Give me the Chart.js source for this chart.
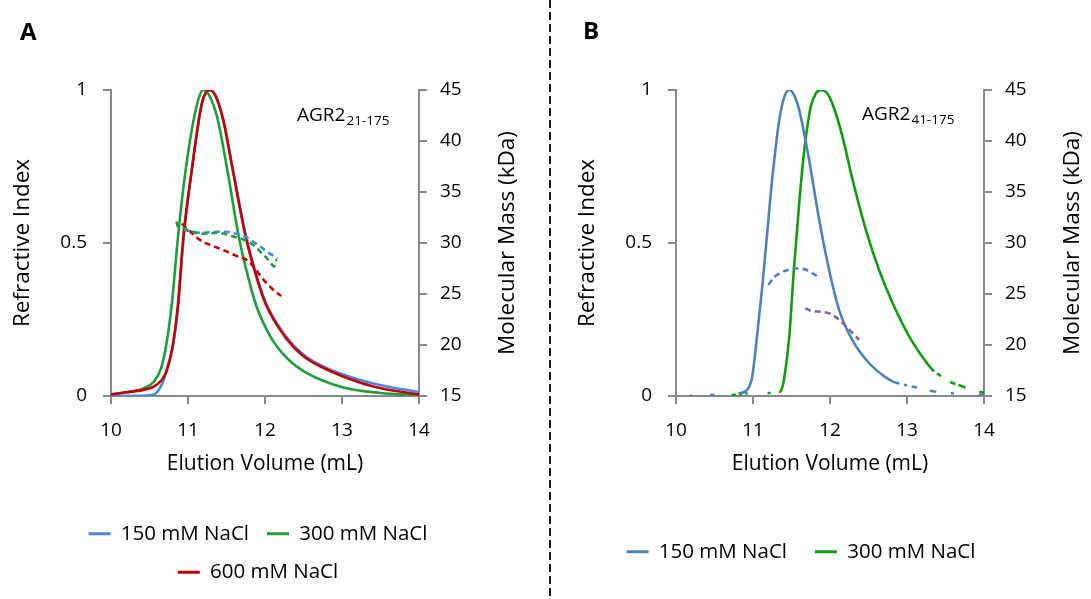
<!DOCTYPE html>
<html>
<head>
<meta charset="utf-8">
<script src="https://cdn.jsdelivr.net/npm/chart.js@4.4.1/dist/chart.umd.min.js"></script>
<style>
html,body{margin:0;padding:0;background:#fff;}
#wrap{position:relative;width:1091px;height:599px;overflow:hidden;background:#fff;font-family:'Open Sans',sans-serif;color:#000;}
canvas{position:absolute;top:0;}
#divider{position:absolute;left:549px;top:0;width:2px;height:599px;background:repeating-linear-gradient(to bottom,#1a1a1a 0px,#1a1a1a 8px,transparent 8px,transparent 12px);}
.panel{position:absolute;font-weight:bold;font-size:24px;line-height:24px;}
.ann{position:absolute;font-size:19px;line-height:19px;white-space:nowrap;}
.ann .sb{font-size:13.5px;position:relative;top:4px;margin-left:1px;}
</style>
</head>
<body>
<div id="wrap">
  <canvas id="cA" width="526" height="599" style="left:0px"></canvas>
  <canvas id="cB" width="526" height="599" style="left:565px"></canvas>
  <div id="divider"></div>
  <div class="panel" style="left:20px;top:18.5px">A</div>
  <div class="panel" style="left:583px;top:18px">B</div>
  <div class="ann" style="left:297px;top:104.5px">AGR2<span class="sb">21-175</span></div>
  <div class="ann" style="left:862px;top:103.5px">AGR2<span class="sb">41-175</span></div>
</div>
<script>
// ---------- axis ticks / labels ----------
const xTicks = [10, 11, 12, 13, 14];
const riTicks = [0, 0.5, 1];
const mmTicks = [15, 20, 25, 30, 35, 40, 45];
const xTitle = 'Elution Volume (mL)';
const riTitle = 'Refractive Index';
const mmTitle = 'Molecular Mass (kDa)';
const seriesNames = ['150 mM NaCl', '300 mM NaCl', '600 mM NaCl'];

// ---------- Panel A (AGR2 21-175) : refractive index ----------
const a150_v  = [10.0, 10.4, 10.55, 10.62, 10.68, 10.73, 10.8, 10.87, 10.94, 11.05, 11.18, 11.28, 11.36, 11.46, 11.58, 11.75, 11.9, 12.01, 12.27, 12.5, 12.86, 13.42, 14.0];
const a150_ri = [0.0, 0.001, 0.004, 0.02, 0.05, 0.09, 0.16, 0.29, 0.51, 0.74, 0.955, 1.0, 0.98, 0.9, 0.745, 0.525, 0.385, 0.305, 0.195, 0.135, 0.085, 0.04, 0.013];
const a300_v  = [10.0, 10.2, 10.42, 10.55, 10.65, 10.72, 10.79, 10.87, 10.97, 11.12, 11.2, 11.28, 11.38, 11.51, 11.66, 11.78, 11.88, 12.08, 12.3, 12.51, 13.03, 13.5, 14.0];
const a300_ri = [0.005, 0.012, 0.025, 0.045, 0.09, 0.17, 0.30, 0.52, 0.74, 0.956, 1.0, 0.98, 0.91, 0.74, 0.52, 0.39, 0.30, 0.19, 0.12, 0.08, 0.027, 0.01, 0.003];
const a600_v  = [10.0, 10.2, 10.42, 10.55, 10.65, 10.72, 10.8, 10.87, 10.94, 11.05, 11.18, 11.28, 11.36, 11.46, 11.58, 11.75, 11.9, 12.01, 12.27, 12.5, 12.86, 13.42, 14.0];
const a600_ri = [0.005, 0.012, 0.02, 0.03, 0.05, 0.08, 0.16, 0.30, 0.52, 0.74, 0.956, 1.0, 0.98, 0.9, 0.74, 0.52, 0.38, 0.30, 0.19, 0.13, 0.08, 0.03, 0.005];
// Panel A : molecular mass (kDa)
const a150m_v  = [10.95, 11.05, 11.16, 11.28, 11.38, 11.5, 11.6, 11.68, 11.75, 11.85, 11.95, 12.03, 12.1, 12.16];
const a150m_mm = [31.3, 31.1, 31.0, 31.05, 31.1, 31.1, 30.95, 30.8, 30.6, 30.1, 29.6, 29.1, 28.8, 28.5];
const a300m_v  = [10.85, 10.87, 10.93, 10.99, 11.08, 11.16, 11.27, 11.38, 11.5, 11.61, 11.7, 11.79, 11.88, 11.96, 12.05, 12.12, 12.15];
const a300m_mm = [32.1, 31.6, 31.5, 31.3, 31.05, 30.9, 30.95, 31.0, 30.85, 30.6, 30.4, 30.1, 29.6, 29.0, 28.3, 27.7, 28.4];
const a600m_v  = [10.92, 11.02, 11.12, 11.2, 11.29, 11.46, 11.64, 11.77, 11.85, 11.98, 12.11, 12.21];
const a600m_mm = [31.9, 31.2, 30.5, 30.1, 29.8, 29.3, 28.7, 28.3, 27.7, 26.4, 25.4, 24.8];

// ---------- Panel B (AGR2 41-175) : refractive index (null = gap in trace) ----------
const b150_v  = [10.44, 10.5, 10.6, 10.81, 10.9, 10.95, 10.99, 11.05, 11.12, 11.18, 11.25, 11.34, 11.41, 11.475, 11.54, 11.6, 11.73, 11.86, 11.99, 12.12, 12.29, 12.51, 12.7, 12.82, 12.9, 12.93, 12.96, 13.0, 13.03, 13.06, 13.13, 13.2, 13.3, 13.38, 13.45, 13.57, 13.61, 13.7, 13.93, 14.0];
const b150_ri = [0.003, 0.004, null, 0.008, 0.015, 0.03, 0.063, 0.19, 0.357, 0.52, 0.71, 0.9, 0.98, 1.0, 0.98, 0.935, 0.77, 0.575, 0.41, 0.28, 0.183, 0.107, 0.065, 0.047, 0.04, null, 0.037, 0.034, null, 0.031, 0.028, null, 0.017, 0.014, null, 0.009, 0.008, null, 0.004, 0.003];
const b300_v  = [10.18, 10.21, 10.4, 10.72, 10.78, 10.8, 10.82, 10.86, 10.88, 10.9, 10.93, 11.0, 11.19, 11.23, 11.3, 11.34, 11.37, 11.40, 11.47, 11.53, 11.60, 11.66, 11.75, 11.82, 11.89, 11.96, 12.03, 12.16, 12.29, 12.47, 12.64, 12.82, 13.04, 13.26, 13.35, 13.37, 13.39, 13.44, 13.5, 13.56, 13.63, 13.65, 13.67, 13.76, 13.85, 13.94, 14.0];
const b300_ri = [0, 0, null, 0.003, 0.004, null, 0.005, 0.006, null, 0.008, 0.008, null, 0.01, 0.01, null, 0.011, 0.02, 0.05, 0.19, 0.41, 0.63, 0.79, 0.945, 0.99, 1.0, 0.99, 0.956, 0.85, 0.71, 0.54, 0.41, 0.30, 0.19, 0.107, 0.08, null, 0.074, 0.065, null, 0.046, 0.039, null, 0.036, 0.028, null, 0.014, 0.011];
// Panel B : molecular mass (kDa)
const b150m_v  = [11.2, 11.27, 11.34, 11.45, 11.56, 11.68, 11.78, 11.86];
const b150m_mm = [25.9, 26.6, 27.0, 27.35, 27.5, 27.4, 27.0, 26.6];
const b300m_v  = [11.68, 11.75, 11.81, 11.9, 11.99, 12.06, 12.12, 12.25, 12.38];
const b300m_mm = [23.6, 23.35, 23.3, 23.25, 23.1, 22.8, 22.45, 21.5, 20.5];

// ---------- styling ----------
const AXIS = '#898989';
const FONT = "'Open Sans', sans-serif";
Chart.defaults.font.family = FONT;
Chart.defaults.color = '#000';

const pts = (xs, ys) => xs.map((x, i) => ({x: x, y: ys[i]}));

function riLine(label, xs, ys, color, order, inLegend) {
  return {label, data: pts(xs, ys), yAxisID: 'yRI', borderColor: color, backgroundColor: color,
    borderWidth: 2.6, pointRadius: 0, fill: false, cubicInterpolationMode: 'monotone',
    spanGaps: false, order, inLegend};
}
function mmLine(label, xs, ys, color, order) {
  return {label, data: pts(xs, ys), yAxisID: 'yMM', borderColor: color, backgroundColor: color,
    borderWidth: 2.6, borderDash: [6, 4], pointRadius: 0, fill: false,
    cubicInterpolationMode: 'monotone', order, inLegend: false};
}

// shifts the legend horizontally (Excel-style off-centre legend)
const legendShift = {
  id: 'legendShift',
  afterLayout(chart, args, opts) {
    const l = chart.legend;
    if (l && opts && opts.dx) { l.left += opts.dx; l.right += opts.dx; }
  }
};
// right-axis title reading bottom-to-top (Chart.js rotates right titles the other way)
const rightTitle = {
  id: 'rightTitle',
  afterDraw(chart, args, opts) {
    const ca = chart.chartArea, ctx = chart.ctx;
    ctx.save();
    ctx.translate(opts.x, (ca.top + ca.bottom) / 2);
    ctx.rotate(-Math.PI / 2);
    ctx.font = opts.size + 'px ' + FONT;
    ctx.fillStyle = '#000';
    ctx.textAlign = 'center';
    ctx.textBaseline = 'middle';
    ctx.fillText(opts.text, 0, 0);
    ctx.restore();
  }
};

function setTicks(list) { return s => { s.ticks = list.map(v => ({value: v})); }; }

function makeChart(id, datasets, o) {
  return new Chart(document.getElementById(id), {
    type: 'line',
    data: {datasets},
    plugins: [legendShift, rightTitle],
    options: {
      responsive: false, animation: false, devicePixelRatio: 1,
      layout: {padding: {top: 90, left: 0, right: 0, bottom: o.padBottom}},
      plugins: {
        tooltip: {enabled: false},
        legendShift: {dx: o.legendDx},
        rightTitle: {text: mmTitle, x: 508, size: 22.5},
        legend: {
          position: 'bottom',
          labels: {
            boxWidth: 22, boxHeight: 3, padding: o.legendPad, color: '#000',
            font: {size: 20.5, family: FONT},
            generateLabels: chart => chart.data.datasets
              .map((ds, i) => ({ds, i}))
              .filter(e => e.ds.inLegend)
              .map(e => ({text: e.ds.label, fillStyle: e.ds.borderColor, strokeStyle: e.ds.borderColor,
                          lineWidth: 0, hidden: false, datasetIndex: e.i, fontColor: '#000'}))
          }
        }
      },
      scales: {
        x: {
          type: 'linear', min: 10, max: 14,
          afterBuildTicks: setTicks(xTicks),
          afterFit: s => { s.height = o.xH; },
          border: {display: true, color: AXIS, width: 2},
          grid: {drawOnChartArea: false, color: AXIS, tickColor: AXIS, tickLength: 8, lineWidth: 2},
          ticks: {font: {size: 19}, color: '#000', padding: 15, maxRotation: 0, autoSkip: false,
                  callback: v => String(v)},
          title: {display: true, text: xTitle, color: '#000', font: {size: 21}, padding: {top: 0, bottom: o.xTitlePad}}
        },
        yRI: {
          type: 'linear', position: 'left', min: 0, max: 1,
          afterBuildTicks: setTicks(riTicks),
          afterFit: s => { s.width = 111; },
          border: {display: true, color: AXIS, width: 2},
          grid: {drawOnChartArea: false, color: AXIS, tickColor: AXIS, tickLength: 8, lineWidth: 2},
          ticks: {font: {size: 19}, color: '#000', padding: 16, autoSkip: false, callback: v => String(v)},
          title: {display: true, text: riTitle, color: '#000', font: {size: 22.5}, padding: {top: 9, bottom: 0}}
        },
        yMM: {
          type: 'linear', position: 'right', min: 15, max: 45,
          afterBuildTicks: setTicks(mmTicks),
          afterFit: s => { s.width = 107; },
          border: {display: true, color: AXIS, width: 2},
          grid: {drawOnChartArea: false, color: AXIS, tickColor: AXIS, tickLength: 8, lineWidth: 2},
          ticks: {font: {size: 19}, color: '#000', padding: 13, autoSkip: false, callback: v => String(v)},
          title: {display: false}
        }
      }
    }
  });
}

// Panel A colours
const A_BLUE = '#4a86e8', A_GREEN = '#1d9e3b', A_RED = '#c00000';
makeChart('cA', [
  riLine(seriesNames[0], a150_v, a150_ri, A_BLUE, 3, true),
  riLine(seriesNames[1], a300_v, a300_ri, A_GREEN, 4, true),
  riLine(seriesNames[2], a600_v, a600_ri, A_RED, 2, true),
  mmLine(seriesNames[0] + ' MM', a150m_v, a150m_mm, A_BLUE, 1),
  mmLine(seriesNames[1] + ' MM', a300m_v, a300m_mm, A_GREEN, 0),
  mmLine(seriesNames[2] + ' MM', a600m_v, a600m_mm, A_RED, 1)
], {padBottom: 6.5, xH: 109.5, xTitlePad: 29, legendPad: 18, legendDx: -5});

// Panel B colours
const B_BLUE = '#4f81bd', B_GREEN = '#119b11', B_PURPLE = '#8064a2';
makeChart('cB', [
  riLine(seriesNames[0], b150_v, b150_ri, B_BLUE, 2, true),
  riLine(seriesNames[1], b300_v, b300_ri, B_GREEN, 3, true),
  mmLine(seriesNames[0] + ' MM', b150m_v, b150m_mm, B_BLUE, 1),
  mmLine(seriesNames[1] + ' MM', b300m_v, b300m_mm, B_PURPLE, 1)
], {padBottom: 27, xH: 117.5, xTitlePad: 37, legendPad: 28, legendDx: -27});
</script>
</body>
</html>
